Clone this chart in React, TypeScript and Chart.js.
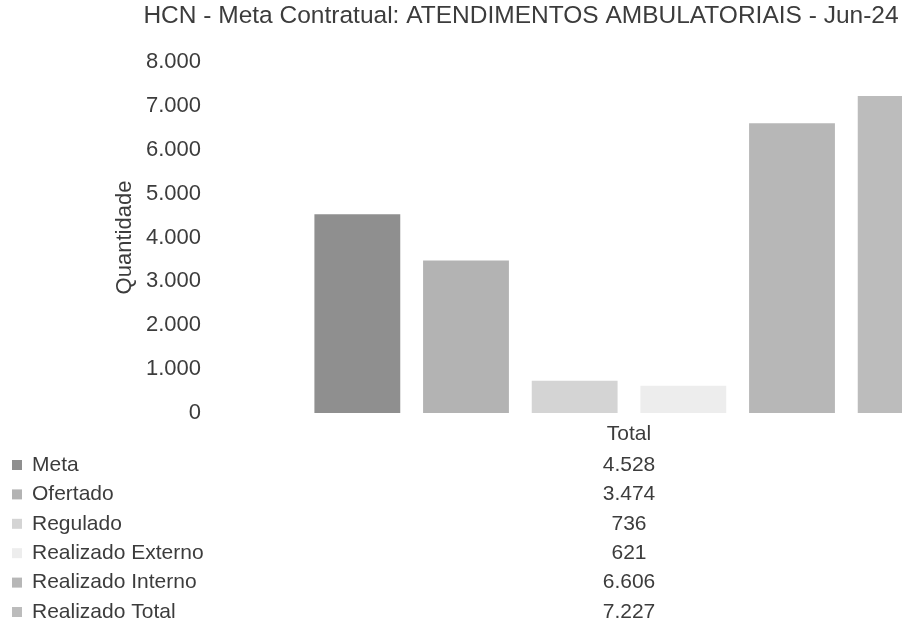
import React, { useEffect, useRef } from "react";
import { Chart, registerables } from "chart.js";

Chart.register(...registerables);

const chartTitle = "HCN - Meta Contratual: ATENDIMENTOS AMBULATORIAIS - Jun-24";
const categories = ["Total"];
const seriesNames = [
  "Meta",
  "Ofertado",
  "Regulado",
  "Realizado Externo",
  "Realizado Interno",
  "Realizado Total",
];
const seriesValues = [4528, 3474, 736, 621, 6606, 7227];
const seriesColors = ["#8f8f8f", "#b3b3b3", "#d4d4d4", "#ededed", "#b7b7b7", "#bcbcbc"];
const yAxisTitle = "Quantidade";
const yMin = 0;
const yMax = 8000;
const yStep = 1000;

const FONT = "'Liberation Sans', Arial, sans-serif";
const TEXT = "#3c3c3c";

function fmt(n: number): string {
  return String(Math.round(n)).replace(/\B(?=(\d{3})+(?!\d))/g, ".");
}

const tablePlugin = {
  id: "tablePlugin",
  afterDraw(chart: any) {
    const ctx = chart.ctx as CanvasRenderingContext2D;
    const xScale = chart.scales.x;
    const colX = xScale.getPixelForValue(0);
    ctx.save();
    ctx.fillStyle = TEXT;
    ctx.textBaseline = "middle";
    // title
    ctx.font = `24.5px ${FONT}`;
    ctx.textAlign = "center";
    ctx.fillText(chartTitle, 521, 16);
    // table header
    ctx.font = `21px ${FONT}`;
    ctx.fillText(categories[0], colX, 434);
    const rowStart = 465;
    const rowGap = 29.4;
    seriesNames.forEach((name, i) => {
      const y = rowStart + i * rowGap;
      ctx.fillStyle = seriesColors[i];
      ctx.fillRect(12, y - 5, 10, 10);
      ctx.fillStyle = TEXT;
      ctx.textAlign = "left";
      ctx.fillText(name, 32, y);
      ctx.textAlign = "center";
      ctx.fillText(fmt(seriesValues[i]), colX, y);
    });
    ctx.restore();
  },
};

export default function App() {
  const ref = useRef<HTMLCanvasElement | null>(null);
  useEffect(() => {
    if (!ref.current) return;
    const chart = new Chart(ref.current, {
      type: "bar",
      data: {
        labels: categories,
        datasets: seriesNames.map((name, i) => ({
          label: name,
          data: [seriesValues[i]],
          backgroundColor: seriesColors[i],
          borderWidth: 0,
          categoryPercentage: 1,
          barPercentage: 0.79,
        })),
      },
      options: {
        animation: false,
        responsive: false,
        devicePixelRatio: 1,
        layout: { padding: { left: 0, top: 62, right: 5, bottom: 227 } },
        plugins: {
          legend: { display: false },
          tooltip: { enabled: false },
          title: { display: false },
        },
        scales: {
          x: { display: false },
          y: {
            min: yMin,
            max: yMax,
            ticks: {
              stepSize: yStep,
              padding: 102,
              color: TEXT,
              font: { family: FONT, size: 22 },
              callback: (v: any) => fmt(Number(v)),
            },
            grid: { display: false, drawTicks: false },
            border: { display: false },
            title: {
              display: true,
              text: yAxisTitle,
              color: TEXT,
              font: { family: FONT, size: 22 },
              padding: { top: 112, bottom: 0 },
            },
            afterFit: (scale: any) => {
              scale.width = 303;
              scale.paddingTop = 12;
              scale.paddingBottom = 12;
            },
          },
        },
      },
      plugins: [tablePlugin],
    });
    return () => chart.destroy();
  }, []);
  return (
    <div style={{ position: "absolute", left: 0, top: 0, width: 902, height: 640, overflow: "hidden", background: "#fff" }}>
      <canvas ref={ref} width={960} height={640} style={{ display: "block", width: 960, height: 640 }} />
    </div>
  );
}
